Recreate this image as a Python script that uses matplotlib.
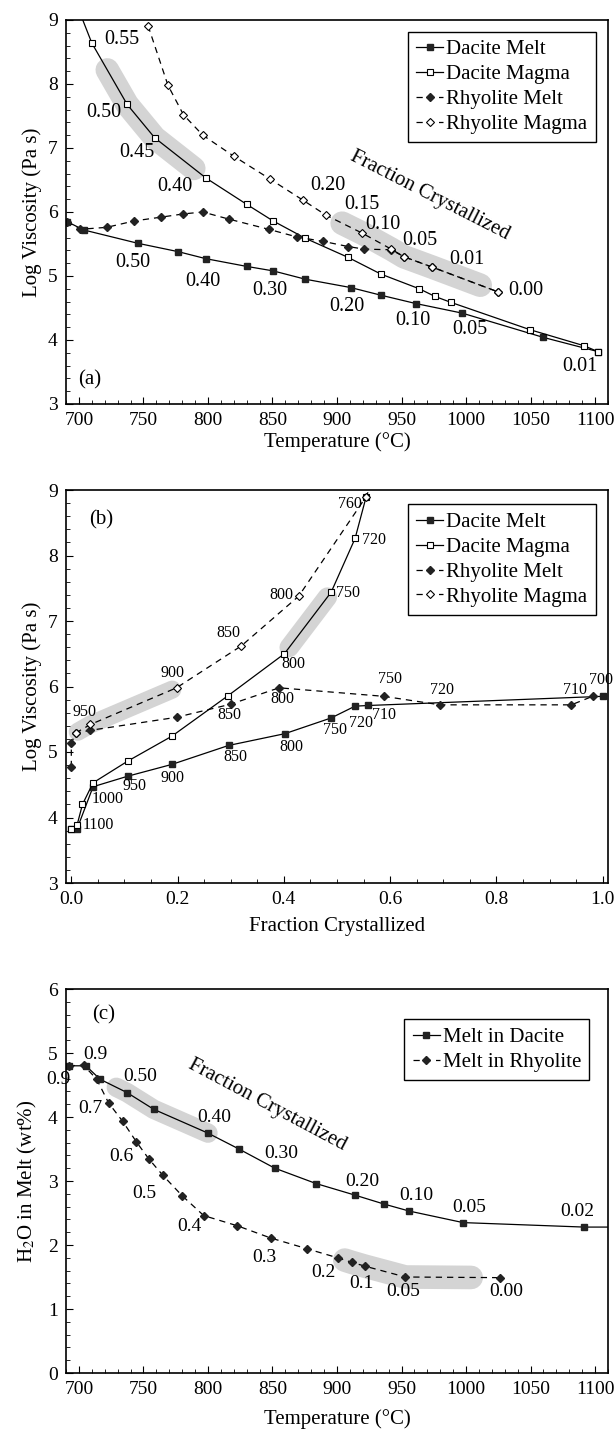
import numpy as np
import matplotlib.pyplot as plt
from matplotlib.ticker import MultipleLocator
from matplotlib.lines import Line2D

plt.rcParams['font.family'] = ['Liberation Serif', 'DejaVu Serif']
plt.rcParams['mathtext.fontset'] = 'stix'

# ---------- panel (a): log viscosity vs temperature ----------
a_dm_T = [690.8, 703.6, 745.9, 777, 798.5, 830, 850.5, 875.4, 910.5, 934, 961, 997, 1060, 1102]
a_dm_v = [5.85, 5.72, 5.51, 5.38, 5.27, 5.15, 5.08, 4.95, 4.82, 4.70, 4.57, 4.42, 4.04, 3.82]
a_dg_T = [703, 710, 737.4, 758.7, 798.5, 830, 850.5, 875.4, 908.7, 934, 963.8, 976, 988, 1049.7, 1091.5, 1102]
a_dg_v = [9.0, 8.64, 7.68, 7.16, 6.53, 6.12, 5.86, 5.59, 5.29, 5.03, 4.80, 4.68, 4.59, 4.16, 3.91, 3.82]
a_rm_T = [690.8, 701, 721.5, 742.8, 763.8, 781, 796, 816, 847, 869, 889.5, 908.7, 921, 942, 952, 973.6, 1025]
a_rm_v = [5.85, 5.73, 5.76, 5.86, 5.92, 5.97, 6.00, 5.89, 5.73, 5.61, 5.54, 5.46, 5.42, 5.41, 5.30, 5.14, 4.75]
a_rg_T = [753.6, 769, 781, 796, 819.8, 847.7, 874, 891.5, 919.5, 942, 952, 973.6, 1025]
a_rg_v = [8.91, 7.98, 7.52, 7.20, 6.875, 6.52, 6.18, 5.95, 5.67, 5.42, 5.30, 5.14, 4.75]

a_lbl = ['0.55', '0.50', '0.45', '0.40', '0.20', '0.15', '0.10', '0.05', '0.01', '0.00',
         '0.50', '0.40', '0.30', '0.20', '0.10', '0.05', '0.01']
a_lbl_T = [733, 719, 744.6, 774, 893, 919, 935.6, 963.8, 1001, 1046,
           742, 796, 848, 908, 959, 1003, 1088]
a_lbl_v = [8.69, 7.55, 6.93, 6.40, 6.41, 6.12, 5.81, 5.55, 5.25, 4.78,
           5.21, 4.91, 4.78, 4.52, 4.30, 4.16, 3.58]

# ---------- panel (b): log viscosity vs fraction crystallized ----------
b_dm_f = [0.0, 0.011, 0.041, 0.106, 0.189, 0.296, 0.402, 0.489, 0.534, 0.559, 1.0]
b_dm_v = [3.82, 3.83, 4.47, 4.63, 4.81, 5.10, 5.28, 5.52, 5.70, 5.71, 5.85]
b_dg_f = [0.0, 0.011, 0.021, 0.041, 0.106, 0.189, 0.295, 0.401, 0.489, 0.534, 0.555]
b_dg_v = [3.82, 3.89, 4.20, 4.53, 4.86, 5.24, 5.86, 6.50, 7.44, 8.26, 8.90]
b_rm_f = [0.0, 0.0, 0.008, 0.035, 0.198, 0.30, 0.391, 0.588, 0.694, 0.941, 0.981]
b_rm_v = [4.77, 5.13, 5.29, 5.33, 5.53, 5.73, 5.98, 5.85, 5.72, 5.72, 5.85]
b_rg_f = [0.008, 0.036, 0.198, 0.32, 0.428, 0.555, 0.56]
b_rg_v = [5.29, 5.42, 5.98, 6.62, 7.38, 8.90, 9.0]

b_lbl = ['1100', '1000', '950', '900', '850', '800', '750', '720', '710', '700',
         '710', '720', '750', '800', '850',
         '900', '950', '850', '800', '760',
         '800', '750', '720']
b_lbl_f = [0.05, 0.069, 0.119, 0.19, 0.309, 0.415, 0.496, 0.545, 0.588, 0.997,
           0.947, 0.698, 0.60, 0.397, 0.298,
           0.19, 0.025, 0.296, 0.396, 0.524,
           0.418, 0.52, 0.57]
b_lbl_v = [3.88, 4.29, 4.48, 4.60, 4.92, 5.08, 5.34, 5.45, 5.57, 6.10,
           5.94, 5.94, 6.12, 5.81, 5.57,
           6.21, 5.61, 6.82, 7.39, 8.79,
           6.35, 7.43, 8.24]

# ---------- panel (c): H2O in melt vs temperature ----------
c_d_T = [692, 705.4, 716.4, 737.4, 758, 799.8, 824, 851.8, 883.8, 913.8, 936.4, 956, 997.7, 1091.5]
c_d_w = [4.80, 4.80, 4.59, 4.38, 4.12, 3.75, 3.50, 3.20, 2.96, 2.78, 2.64, 2.53, 2.35, 2.28]
c_r_T = [692, 703.6, 713.8, 723, 734, 744.6, 754, 765, 780, 796.7, 822.8, 848.5, 877, 900.5, 911.3, 921.5, 953, 1026]
c_r_w = [4.80, 4.81, 4.59, 4.22, 3.93, 3.61, 3.35, 3.09, 2.77, 2.46, 2.30, 2.11, 1.94, 1.80, 1.73, 1.67, 1.50, 1.49]

c_lbl = ['0.9', '0.50', '0.40', '0.30', '0.20', '0.10', '0.05', '0.02',
         '0.9', '0.7', '0.6', '0.5', '0.4', '0.3', '0.2', '0.1', '0.05', '0.00']
c_lbl_T = [712.5, 747.7, 804.9, 856.7, 919.8, 961.3, 1002.3, 1086.4,
           684, 708.7, 733, 751, 785.6, 843.8, 889.5, 919, 951.5, 1031]
c_lbl_w = [4.97, 4.63, 4.00, 3.43, 3.00, 2.77, 2.59, 2.52,
           4.58, 4.14, 3.38, 2.80, 2.29, 1.81, 1.57, 1.40, 1.27, 1.27]

DASH = (0, (5, 4))
st_dm = dict(color='k', lw=0.9, marker='s', ms=4.5, mfc='#222222', mec='#222222')
st_dg = dict(color='k', lw=0.9, marker='s', ms=4.5, mfc='white', mec='k', mew=0.8)
st_rm = dict(color='k', lw=0.9, ls=DASH, marker='D', ms=3.8, mfc='#222222', mec='#222222')
st_rg = dict(color='k', lw=0.9, ls=DASH, marker='D', ms=3.8, mfc='white', mec='k', mew=0.8)
GREY = '#d4d4d4'


def highlight(ax, x, y, lo, hi, width):
    xs = [lo] + [xi for xi in x if lo < xi < hi] + [hi]
    ys = np.interp(xs, x, y)
    ax.plot(xs, ys, color=GREY, lw=width, solid_capstyle='round', zorder=0.5)


def style_axes(ax, xmaj, xmin):
    ax.tick_params(which='both', direction='in', labelsize=14, pad=6)
    ax.tick_params(which='major', length=5)
    ax.tick_params(which='minor', length=3)
    ax.xaxis.set_major_locator(MultipleLocator(xmaj))
    ax.xaxis.set_minor_locator(MultipleLocator(xmin))
    ax.yaxis.set_major_locator(MultipleLocator(1))
    ax.yaxis.set_minor_locator(MultipleLocator(0.2))
    for s in ax.spines.values():
        s.set_linewidth(1.2)


def legend(ax, labels, styles, anchor):
    handles = [Line2D([], [], **s) for s in styles]
    leg = ax.legend(handles, labels, loc='upper right', bbox_to_anchor=anchor,
                    fontsize=15, frameon=True, fancybox=False, framealpha=1,
                    edgecolor='k', handlelength=1.3, handletextpad=0.15,
                    labelspacing=0.25, borderpad=0.4, numpoints=1)
    leg.get_frame().set_linewidth(1.0)


fig = plt.figure(figsize=(6.14, 14.34), dpi=100)
W, H = 614, 1434


def add_axes(l, t, r, b):
    return fig.add_axes([l / W, 1 - b / H, (r - l) / W, (b - t) / H])


# (a)
ax = add_axes(66, 20, 608, 404)
highlight(ax, a_dg_T, a_dg_v, 722, 789, 17)
highlight(ax, a_rg_T, a_rg_v, 904, 1011, 17)
ax.plot(a_dm_T, a_dm_v, **st_dm)
ax.plot(a_dg_T, a_dg_v, markevery=slice(1, None), **st_dg)
ax.plot(a_rm_T, a_rm_v, **st_rm)
ax.plot(a_rg_T, a_rg_v, **st_rg)
for t, x, y in zip(a_lbl, a_lbl_T, a_lbl_v):
    ax.text(x, y, t, fontsize=14.5, ha='center', va='center')
ax.text(972, 6.25, 'Fraction Crystallized', fontsize=15, rotation=-27,
        ha='center', va='center')
ax.text(708.5, 3.38, '(a)', fontsize=15, ha='center', va='center')
ax.set_xlim(690, 1110)
ax.set_ylim(3, 9)
style_axes(ax, 50, 10)
ax.set_xlabel('Temperature (°C)', fontsize=15, labelpad=2)
ax.set_ylabel('Log Viscosity (Pa s)', fontsize=15, labelpad=4)
legend(ax, ['Dacite Melt', 'Dacite Magma', 'Rhyolite Melt', 'Rhyolite Magma'],
       [st_dm, st_dg, st_rm, st_rg], (0.997, 0.997))

# (b)
ax = add_axes(66, 490, 608, 883)
highlight(ax, b_rg_f, b_rg_v, 0.012, 0.19, 13)
highlight(ax, b_dg_f, b_dg_v, 0.41, 0.482, 14)
ax.plot(b_dm_f, b_dm_v, **st_dm)
ax.plot(b_dg_f, b_dg_v, **st_dg)
ax.plot(b_rm_f, b_rm_v, **st_rm)
ax.plot(b_rg_f, b_rg_v, markevery=slice(0, -1), **st_rg)
for t, x, y in zip(b_lbl, b_lbl_f, b_lbl_v):
    ax.text(x, y, t, fontsize=11.5, ha='center', va='center')
ax.text(0.057, 8.54, '(b)', fontsize=15, ha='center', va='center')
ax.set_xlim(-0.01, 1.01)
ax.set_ylim(3, 9)
style_axes(ax, 0.2, 0.05)
ax.xaxis.set_major_formatter(plt.FuncFormatter(lambda v, p: f'{v:.1f}'))
ax.set_xlabel('Fraction Crystallized', fontsize=15, labelpad=6)
ax.set_ylabel('Log Viscosity (Pa s)', fontsize=15, labelpad=4)
legend(ax, ['Dacite Melt', 'Dacite Magma', 'Rhyolite Melt', 'Rhyolite Magma'],
       [st_dm, st_dg, st_rm, st_rg], (0.997, 0.99))

# (c)
ax = add_axes(66, 989, 608, 1373)
highlight(ax, c_d_T, c_d_w, 729, 800, 14)
highlight(ax, c_r_T, c_r_w, 906, 1004, 17)
ax.plot(c_d_T + [1110], c_d_w + [2.28], markevery=slice(0, -1), **st_dm)
ax.plot(c_r_T, c_r_w, **st_rm)
for t, x, y in zip(c_lbl, c_lbl_T, c_lbl_w):
    ax.text(x, y, t, fontsize=14, ha='center', va='center', clip_on=False)
ax.text(846, 4.19, 'Fraction Crystallized', fontsize=15, rotation=-28,
        ha='center', va='center')
ax.text(719, 5.59, '(c)', fontsize=15, ha='center', va='center')
ax.set_xlim(690, 1110)
ax.set_ylim(0, 6)
style_axes(ax, 50, 10)
ax.set_xlabel('Temperature (°C)', fontsize=15, labelpad=8)
ax.set_ylabel('H$_2$O in Melt (wt%)', fontsize=15, labelpad=6)
legend(ax, ['Melt in Dacite', 'Melt in Rhyolite'], [st_dm, st_rm], (0.985, 0.948))

fig.savefig('out.png', dpi=100)
